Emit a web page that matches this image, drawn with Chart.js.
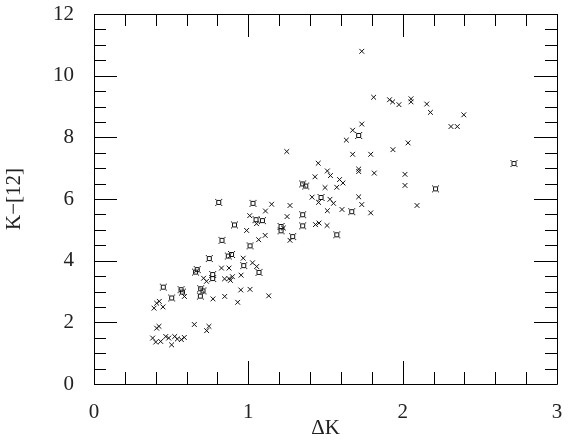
<!DOCTYPE html>
<html>
<head>
<meta charset="utf-8">
<script src="https://cdn.jsdelivr.net/npm/chart.js@4/dist/chart.umd.min.js"></script>
<style>
  html, body { margin: 0; padding: 0; background: #fff; }
  #wrap { width: 570px; height: 443px; position: relative; }
</style>
</head>
<body>
<div id="wrap"><canvas id="c" width="570" height="443"></canvas></div>
<script>
// Cross ("x") markers
const crossX = [0.421,0.406,0.650,0.745,0.730,0.380,0.400,0.432,0.465,0.484,0.503,0.523,0.540,0.566,0.585,
  0.423,0.406,0.389,0.447,0.586,0.771,0.847,0.931,0.951,1.011,1.132,
  0.967,1.027,1.054,0.826,0.875,0.710,0.729,0.846,0.875,0.897,0.884,0.953,
  1.151,1.111,1.270,1.009,1.053,1.251,0.989,1.109,1.067,1.270,1.227,1.249,
  1.453,1.432,1.512,1.532,1.591,1.613,1.573,1.497,1.413,1.455,1.529,1.552,1.715,1.735,1.512,1.607,1.793,
  1.435,1.458,1.510,1.715,1.715,1.816,1.676,1.793,1.937,2.035,2.015,2.015,2.093,
  1.635,1.676,1.735,1.735,1.812,1.915,1.935,1.976,2.054,2.054,2.156,2.180,2.396,2.313,2.354];
const crossY = [1.87,1.81,1.93,1.87,1.73,1.49,1.36,1.38,1.54,1.49,1.27,1.54,1.46,1.44,1.51,
  2.68,2.62,2.46,2.50,2.84,2.76,2.84,2.65,3.05,3.07,2.86,
  4.08,3.93,3.81,3.76,3.76,3.43,3.33,3.41,3.42,3.48,3.36,3.53,
  5.83,5.61,5.79,5.46,5.20,5.43,4.98,4.82,4.68,4.66,5.06,7.54,
  7.16,6.72,6.91,6.76,6.63,6.52,6.38,6.37,6.06,5.89,5.99,5.86,6.07,5.82,5.62,5.66,5.55,
  5.17,5.22,5.14,6.97,6.89,6.84,7.45,7.45,7.60,7.82,6.80,6.44,5.79,
  7.91,8.23,8.43,10.79,9.30,9.22,9.15,9.06,9.25,9.15,9.08,8.81,8.73,8.35,8.35];

// Square markers
const squareX = [0.449,0.503,0.564,0.573,0.691,0.706,0.689,0.658,0.669,0.747,0.870,0.891,0.970,0.769,0.769,1.069,
  0.808,1.030,1.050,1.091,0.910,1.212,1.212,0.829,1.011,1.352,1.372,1.352,1.352,1.287,1.573,1.471,1.670,2.213,2.721,1.715];
const squareY = [3.14,2.79,3.06,2.98,3.09,3.02,2.85,3.63,3.71,4.07,4.15,4.20,3.84,3.55,3.42,3.62,
  5.89,5.86,5.33,5.30,5.16,5.11,4.97,4.66,4.48,6.49,6.42,5.49,5.13,4.78,4.84,6.05,5.59,6.33,7.15,8.06];

const xTickValues = [0, 1, 2, 3];
const yTickValues = [0, 2, 4, 6, 8, 10, 12];
const xTitle = 'ΔK';
const yTitle = 'K−[12]';

// custom square marker
function makeSquareMarker() {
  const c = document.createElement('canvas');
  c.width = 9; c.height = 9;
  const g = c.getContext('2d');
  g.strokeStyle = '#111';
  g.lineWidth = 1;
  g.beginPath();
  g.rect(2.5, 2.5, 4, 4);
  g.moveTo(1, 1); g.lineTo(2.5, 2.5);
  g.moveTo(8, 1); g.lineTo(6.5, 2.5);
  g.moveTo(1, 8); g.lineTo(2.5, 6.5);
  g.moveTo(8, 8); g.lineTo(6.5, 6.5);
  g.stroke();
  return c;
}

const toPts = (xs, ys) => xs.map((x, i) => ({x: x, y: ys[i]}));

const frameTicks = {
  id: 'frameTicks',
  afterDraw(chart) {
    const ctx = chart.ctx;
    const a = chart.chartArea;
    const xs = chart.scales.x, ys = chart.scales.y;
    ctx.save();
    ctx.strokeStyle = '#000';
    ctx.lineWidth = 1;
    ctx.beginPath();
    ctx.rect(Math.round(a.left) + 0.5, Math.round(a.top) + 0.5, Math.round(a.right - a.left), Math.round(a.bottom - a.top));
    for (let i = 0; i <= 15; i++) {
      const v = i * 0.2;
      const px = Math.round(xs.getPixelForValue(v)) + 0.5;
      const len = (i % 5 === 0) ? 23 : 12;
      ctx.moveTo(px, a.bottom); ctx.lineTo(px, a.bottom - len);
      ctx.moveTo(px, a.top); ctx.lineTo(px, a.top + len);
    }
    for (let i = 0; i <= 24; i++) {
      const v = i * 0.5;
      const py = Math.round(ys.getPixelForValue(v)) + 0.5;
      const len = (i % 4 === 0) ? 23 : 12;
      ctx.moveTo(a.left, py); ctx.lineTo(a.left + len, py);
      ctx.moveTo(a.right, py); ctx.lineTo(a.right - len, py);
    }
    ctx.stroke();
    ctx.restore();
  }
};

const tickFont = { family: "'Liberation Serif', serif", size: 21 };

new Chart(document.getElementById('c'), {
  type: 'scatter',
  data: {
    datasets: [
      { label: 'x', data: toPts(crossX, crossY), pointStyle: 'crossRot', pointRadius: 3.4,
        borderColor: '#111', backgroundColor: '#111', borderWidth: 1 },
      { label: 'sq', data: toPts(squareX, squareY), pointStyle: makeSquareMarker(), pointRadius: 4,
        borderColor: '#111', backgroundColor: '#111', borderWidth: 1 }
    ]
  },
  options: {
    responsive: false,
    animation: false,
    events: [],
    layout: { padding: { top: 14, right: 13, left: 0, bottom: 0 } },
    plugins: { legend: { display: false }, tooltip: { enabled: false } },
    scales: {
      x: {
        type: 'linear', min: 0, max: 3,
        grid: { display: false },
        border: { display: false },
        afterBuildTicks: s => { s.ticks = xTickValues.map(v => ({ value: v })); },
        afterFit: s => { s.height = 59; s.paddingLeft = 0; s.paddingRight = 0; },
        ticks: { padding: 8, color: '#222', font: tickFont, maxRotation: 0, autoSkip: false,
          callback: v => String(v) },
        title: { display: true, text: xTitle, color: '#222', font: tickFont, padding: { top: 0, bottom: 2.4 } }
      },
      y: {
        type: 'linear', min: 0, max: 12,
        grid: { display: false },
        border: { display: false },
        afterBuildTicks: s => { s.ticks = yTickValues.map(v => ({ value: v })); },
        afterFit: s => { s.width = 94; s.paddingTop = 0; s.paddingBottom = 0; },
        ticks: { padding: 12, color: '#222', font: tickFont, autoSkip: false,
          callback: v => String(v) },
        title: { display: true, text: yTitle, color: '#222', font: tickFont, padding: { top: 1.5, bottom: 0 } }
      }
    }
  },
  plugins: [frameTicks]
});
</script>
</body>
</html>
